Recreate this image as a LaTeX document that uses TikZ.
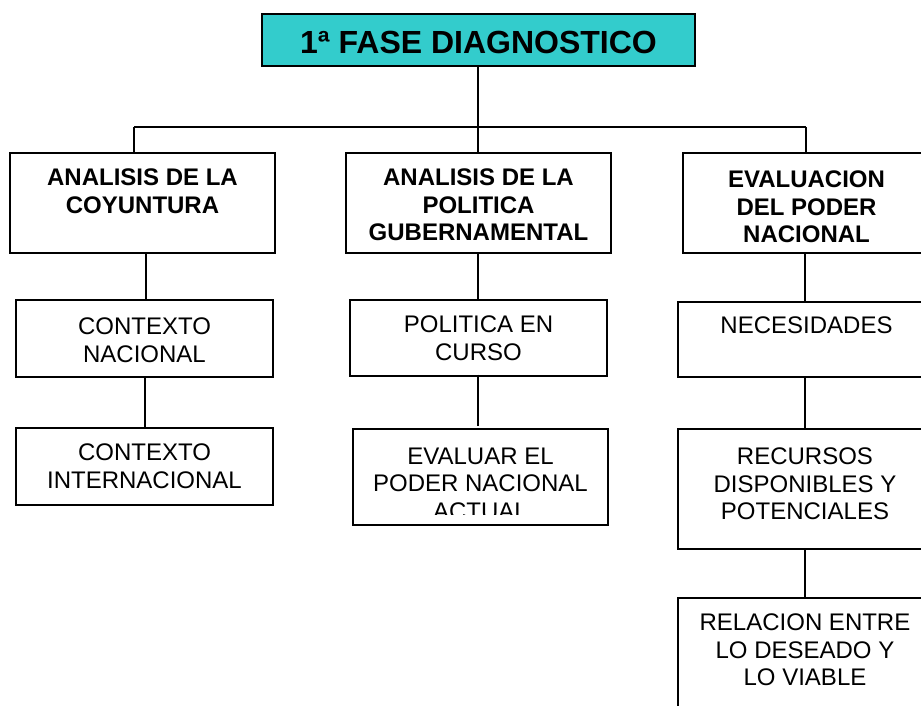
\documentclass[tikz,border=0pt]{standalone}
\usepackage{fontspec}
\setmainfont{Liberation Sans}
\definecolor{titlecol}{RGB}{51,204,204}
\begin{document}
\begin{tikzpicture}[x=1pt,y=-1pt,
  box/.style={draw=black, line width=1.4pt, rectangle, inner sep=0pt},
  txt/.style={font=\fontsize{24}{27.5}\selectfont, align=center, inner sep=0pt, anchor=north},
  btxt/.style={font=\bfseries\fontsize{24}{27.5}\selectfont, align=center, inner sep=0pt, anchor=north},
  link/.style={draw=black, line width=1.4pt}]
\useasboundingbox (0,0) rectangle (921,706);
\clip (0,0) rectangle (921,706);
% boxes
\node[box, fill=titlecol, minimum width=433pt, minimum height=52pt] (top) at (478.5,40) {};
\node[box, minimum width=265pt, minimum height=100pt] (b1) at (142.5,203) {};
\node[box, minimum width=265pt, minimum height=100pt] (b2) at (478.5,203) {};
\node[box, minimum width=247pt, minimum height=100pt] (b3) at (806.5,203) {};
\node[box, minimum width=257pt, minimum height=77pt] (c1) at (144.5,338.5) {};
\node[box, minimum width=257pt, minimum height=77pt] (c2) at (144.5,466.5) {};
\node[box, minimum width=257pt, minimum height=76pt] (m1) at (478.5,338) {};
\node[box, minimum width=255pt, minimum height=96pt] (m2) at (480.5,477) {};
\node[box, minimum width=254pt, minimum height=75pt] (r1) at (805,339.5) {};
\node[box, minimum width=254pt, minimum height=120pt] (r2) at (805,489) {};
\node[box, minimum width=254pt, minimum height=192pt] (r3) at (805,694) {};
% texts
\node[font=\bfseries\fontsize{32}{36}\selectfont, inner sep=0pt] (ttop) at ([yshift=-2.7pt]top.center) {1ª FASE DIAGNOSTICO};
\node[btxt] (tb1) at ([yshift=-16.6pt]b1.north) {ANALISIS DE LA\\COYUNTURA};
\node[btxt] (tb2) at ([yshift=-16.6pt]b2.north) {ANALISIS DE LA\\POLITICA\\GUBERNAMENTAL};
\node[btxt] (tb3) at ([yshift=-18.6pt]b3.north) {EVALUACION\\DEL PODER\\NACIONAL};
\node[txt] (tc1) at ([yshift=-18.6pt]c1.north) {CONTEXTO\\NACIONAL};
\node[txt] (tc2) at ([yshift=-16.6pt]c2.north) {CONTEXTO\\INTERNACIONAL};
\node[txt] (tm1) at ([yshift=-16.6pt]m1.north) {POLITICA EN\\CURSO};
\begin{scope}
\clip (353,429) rectangle (608,514);
\node[txt] (tm2) at ([yshift=-19.3pt]m2.north) {EVALUAR EL\\PODER NACIONAL\\ACTUAL};
\end{scope}
\node[txt] (tr1) at ([yshift=-15.6pt,xshift=1.5pt]r1.north) {NECESIDADES};
\node[txt] (tr2) at ([yshift=-19.3pt]r2.north) {RECURSOS\\DISPONIBLES Y\\POTENCIALES};
\node[txt] (tr3) at ([yshift=-16.6pt]r3.north) {RELACION ENTRE\\LO DESEADO Y\\LO VIABLE};
% connectors
\coordinate (j1) at (134,127);
\coordinate (j2) at (478,127);
\coordinate (j3) at (806,127);
\draw[link] (top.south -| j2) -- (j2);
\draw[link] (j1) -- (j3);
\draw[link] (j1) -- (j1 |- b1.north);
\draw[link] (j2) -- (j2 |- b2.north);
\draw[link] (j3) -- (j3 |- b3.north);
\draw[link] ([xshift=3.5pt]b1.south) -- ([xshift=3.5pt]b1.south |- c1.north);
\draw[link] ([xshift=0.5pt]c1.south) -- ([xshift=0.5pt]c1.south |- c2.north);
\draw[link] ([xshift=-0.5pt]b2.south) -- ([xshift=-0.5pt]b2.south |- m1.north);
\draw[link] ([xshift=-0.5pt,yshift=2pt]m1.south) -- ([xshift=-0.5pt,yshift=2pt]m1.south |- m2.north);
\draw[link] (b3.south -| r1.north) -- (r1.north);
\draw[link] (r1.south) -- (r2.north);
\draw[link] (r2.south) -- (r3.north);
\end{tikzpicture}
\end{document}
